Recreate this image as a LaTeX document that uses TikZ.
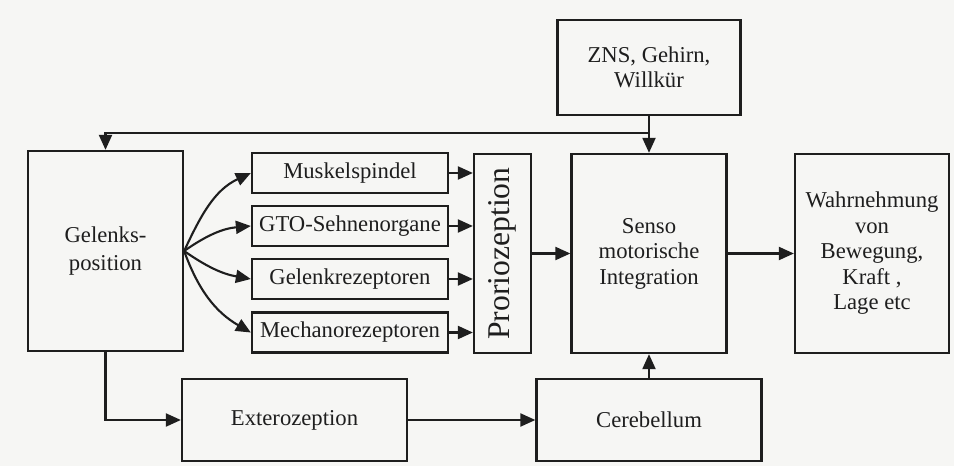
\documentclass[tikz,border=0pt]{standalone}
\usepackage{fontspec}
\setmainfont{Liberation Serif}
\usepackage{graphicx}
\usetikzlibrary{arrows.meta}

\definecolor{paper}{RGB}{246,246,244}
\definecolor{ink}{RGB}{30,30,30}

\tikzset{
  box/.style={draw=ink,line width=1.3pt,inner sep=0,align=center,text=ink,
    font=\fontsize{12.9}{14.5}\selectfont},
  sense/.style={box,minimum width=3.92cm,minimum height=0.8cm},
  link/.style={->,draw=ink,line width=1.2pt}
}

\begin{document}
\begin{tikzpicture}[>={Triangle[length=3mm,width=2.6mm]}]
\fill[paper] (0,0) rectangle (19.08,9.32);
\useasboundingbox (0,0) rectangle (19.08,9.32);

% boxes
\node[box,minimum width=3.1cm,minimum height=4cm] (gelenk) at (2.11,4.30) {Gelenks-\\[1.5pt]position};
\node[sense] (musk) at (7.00,5.86) {Muskelspindel};
\node[sense] (gto) at (7.00,4.80) {GTO-Sehnenorgane};
\node[sense] (gelrez) at (7.00,3.74) {Gelenkrezeptoren};
\node[sense] (mech) at (7.00,2.67) {Mechanorezeptoren};
\node[box,minimum width=1.14cm,minimum height=3.98cm,font=\fontsize{18}{20}\selectfont] (prop) at (10.05,4.25) {\rotatebox{90}{Proriozeption}};
\node[box,minimum width=3.1cm,minimum height=3.98cm] (senso) at (12.98,4.25) {Senso\\motorische\\Integration};
\node[box,minimum width=3.66cm,minimum height=1.9cm] (zns) at (12.98,7.97) {ZNS, Gehirn,\\Willkür};
\node[box,minimum width=3.08cm,minimum height=3.98cm] (wahr) at (17.44,4.25) {Wahrnehmung\\von\\Bewegung,\\Kraft ,\\Lage etc};
\node[box,minimum width=4.5cm,minimum height=1.64cm] (extero) at (5.89,0.92) {Exterozeption};
\node[box,minimum width=4.5cm,minimum height=1.64cm] (cereb) at (12.98,0.92) {Cerebellum};

% fan out of the joint position
\draw[link] (gelenk.east) to[out=65,in=205] (musk.west);
\draw[link] (gelenk.east) to[out=35,in=185] (gto.west);
\draw[link] (gelenk.east) to[out=-35,in=170] (gelrez.west);
\draw[link] (gelenk.east) to[out=-70,in=150] (mech.west);

% receptors into proprioception
\draw[link] (musk.east) -- (musk.east -| prop.west);
\draw[link] (gto.east) -- (gto.east -| prop.west);
\draw[link] (gelrez.east) -- (gelrez.east -| prop.west);
\draw[link] (mech.east) -- (mech.east -| prop.west);

\draw[link] (prop.east) -- (senso.west);
\draw[link] (senso.east) -- (wahr.west);
\draw[link] (zns.south) -- (senso.north);
\draw[link] (cereb.north) -- (senso.south);

% feedback and exteroception path
\coordinate (split) at (12.98,6.66);
\draw[link] (split) -| (gelenk.north);
\draw[link] (gelenk.south) |- (extero.west);
\draw[link] (extero.east) -- (cereb.west);
\end{tikzpicture}
\end{document}
